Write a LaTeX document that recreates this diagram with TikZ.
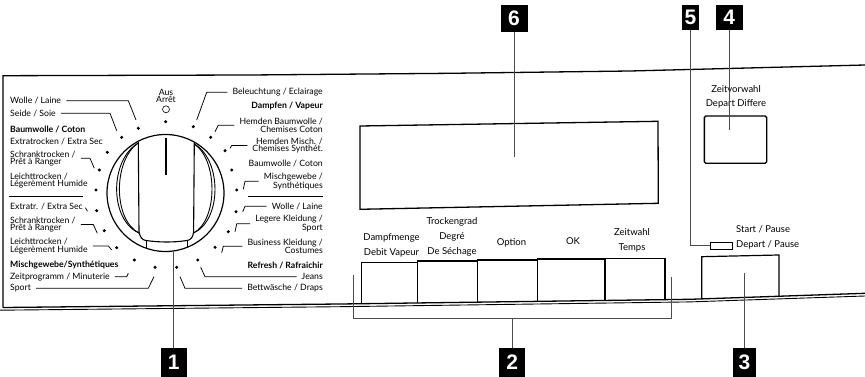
\documentclass[tikz,border=0pt]{standalone}
\usepackage{fontspec}
\setmainfont{Lato}
\newfontfamily\numfont{Liberation Sans}
\usetikzlibrary{calc}
\begin{document}
\begin{tikzpicture}[x=1pt,y=-1pt,
  lbl/.style={font=\fontsize{8.7}{7.4}\selectfont, inner xsep=5pt, inner ysep=1pt, align=left, anchor=west},
  rlbl/.style={lbl, align=right, anchor=east},
  btxt/.style={font=\fontsize{9.5}{14.6}\selectfont, inner sep=1pt, align=center},
  dot/.style={circle, fill=black, inner sep=0pt, minimum size=3.4pt},
  lead/.style={line width=0.75pt},
  panel/.style={line width=1.3pt},
  pointer/.style={draw=black!70, line width=0.9pt},
  numbox/.style={fill=black, text=white, font=\numfont\bfseries\fontsize{21}{21}\selectfont, inner sep=0pt}
]
\useasboundingbox (0,0) rectangle (865,377);

% panel outline
\draw[panel] (3,307.5) -- (3,75.7) -- (250,75) -- (450,73.3) -- (630,71) -- (865,65);
\draw[panel] (3,307.5) -- (340,304) -- (690,299.3) -- (865,293.3);
\draw[line width=0.9pt] (0,310.2) -- (340,306.7) -- (690,301.9) -- (865,296);

% dial
\node[circle, draw, line width=1.2pt, minimum size=117pt, inner sep=0pt] (dial) at (165.5,193) {};
\draw[line width=1.1pt] (138.3,141.5) -- (139,232);
\draw[line width=1.1pt] (194.3,142.3) -- (193.6,232);
\draw[line width=0.9pt] (138.3,143) .. controls (109.3,160) and (109.3,220) .. (139,233);
\draw[line width=0.9pt] (138.3,143) .. controls (113,160) and (113,220) .. (139,233);
\draw[line width=0.9pt] (194.3,144) .. controls (222,160) and (222,220) .. (193.6,233);
\draw[line width=0.9pt] (194.3,144) .. controls (218,160) and (218,220) .. (193.6,233);
\draw[line width=1.1pt] (139,232) .. controls (140,237) and (142,240) .. (146,240.5)
   .. controls (160,242.5) and (174,242.5) .. (187,240.5)
   .. controls (191,240) and (193,237) .. (193.6,232);
\draw[line width=1pt] (146,240.5) -- (146,248);
\draw[line width=1pt] (187,240.5) -- (187,247.5);
\draw[line width=1.8pt] (166,137.7) -- (166,175);

% Aus / Arret
\node[font=\fontsize{8.7}{7.4}\selectfont, align=center, inner sep=0pt] (aus) at (166,95.9) {Aus\\Arrêt};
\node[circle, draw, line width=0.6pt, inner sep=0pt, minimum size=7pt] (off) at (166,109.3) {};

% dots
\foreach \n/\p in {D0/{165.7,121.7}, D1/{138.3,128.3}, D2/{121.7,137.3}, D3/{107.3,152.3},
  D4/{99.3,170}, D5/{96,190}, D6/{96.7,210.7}, D7/{104.3,230.7}, D8/{116.7,247.7},
  D9/{134.3,260}, D10/{155,267.3},
  E1/{193.3,126.7}, E2/{210.7,137.3}, E3/{225,150.7}, E4/{231.7,170}, E5/{236.7,190},
  E6/{236,211.7}, E7/{228.3,231.7}, E8/{215,247.3}, E9/{197.7,260}, E10/{176.7,267.3}}
  \node[dot] (\n) at (\p) {};

% left labels
\node[lbl] (L1) at (5,100.7) {Wolle / Laine};
\node[lbl] (L2) at (5,113.3) {Seide / Soie};
\node[lbl] (L3) at (5,129.3) {\textbf{Baumwolle / Coton}};
\node[lbl] (L4) at (5,141.7) {Extratrocken / Extra Sec};
\node[lbl] (L5) at (5,158.3) {Schranktrocken /\\Prêt à Ranger};
\node[lbl] (L6) at (5,180.5) {Leichttrocken /\\Légerèment Humide};
\node[lbl] (L7) at (5,206.7) {Extratr. / Extra Sec};
\node[lbl] (L8) at (5,224.5) {Schranktrocken /\\Prêt à Ranger};
\node[lbl] (L9) at (5,245.9) {Leichttrocken /\\Légerèment Humide};
\node[lbl] (L10) at (5,265) {\textbf{Mischgewebe/Synthétiques}};
\node[lbl] (L11) at (5,276.7) {Zeitprogramm / Minuterie};
\node[lbl] (L12) at (5,288.3) {Sport};
\coordinate (sepL1) at (9.3,196); \coordinate (sepL2) at (83.3,196);
\draw[lead] (sepL1) -- (sepL2);

% right labels
\node[rlbl] (R1) at (328,92.3) {Beleuchtung / Eclairage};
\node[rlbl] (R2) at (328,105.7) {\textbf{Dampfen / Vapeur}};
\node[rlbl] (R3) at (328,125.2) {Hemden Baumwolle /\\Chemises Coton};
\node[rlbl] (R4) at (328,145.5) {Hemden Misch. /\\Chemises Synthét.};
\node[rlbl] (R5) at (328,163.3) {Baumwolle / Coton};
\node[rlbl] (R6) at (328,181.3) {Mischgewebe /\\Synthétiques};
\node[rlbl] (R7) at (328,206.3) {Wolle / Laine};
\node[rlbl] (R8) at (328,223.8) {Legere Kleidung /\\Sport};
\node[rlbl] (R9) at (328,246.3) {Business Kleidung /\\Costumes};
\node[rlbl] (R10) at (328,265) {\textbf{Refresh / Rafraichir}};
\node[rlbl] (R11) at (328,276.7) {Jeans};
\node[rlbl] (R12) at (328,288.3) {Bettwäsche / Draps};
\coordinate (sepR1) at (248.3,196); \coordinate (sepR2) at (322.7,196);
\draw[lead] (sepR1) -- (sepR2);

% leader bends and ends
\foreach \n/\b/\e in {L1/{128.3,0}/{136,120}, L2/{110,0}/{116.7,130.7}, L5/{90,0}/{94.3,168.3},
   L8/{93.3,0}/{97.3,233.3}, L9/{108.3,0}/{111.7,250}, L11/{126.7,0}/{128.3,273.3},
   L12/{148.3,0}/{154,276.7}}
{
  \coordinate (b\n) at (\b);
  \coordinate (e\n) at (\e);
  \draw[lead] (\n.east) -- (\n.east -| b\n) -- (e\n);
}
\foreach \n/\b/\e in {R1/{206.7,0}/{196.7,120}, R3/{218.3,0}/{215,131.7}, R4/{231.7,0}/{230,148.3},
   R6/{245,0}/{243.3,189.3}, R7/{245,0}/{242.7,211.7}, R8/{236.7,0}/{235,231.7},
   R9/{223.3,0}/{221.7,252.7}, R11/{205,0}/{200.7,267.3}, R12/{185,0}/{180,276.7}}
{
  \coordinate (b\n) at (\b);
  \coordinate (e\n) at (\e);
  \draw[lead] (\n.west) -- (\n.west -| b\n) -- (e\n);
}
\draw[lead] ($(L7.east)+(-2.5,1)$) -- ($(L7.east)+(-0.5,4.5)$);

% display
\draw[line width=1.3pt] (360,126) -- (658,121.3) -- (658.3,203.3) -- (360,209.3) -- cycle;

% buttons row
\draw[line width=1.2pt] (361.7,303.7) -- (361.7,262.7) -- (417.7,262.7) -- (417.7,303);
\draw[line width=1.2pt] (417.7,262.7) -- (417.7,261) -- (477.3,261) -- (477.3,302.2);
\draw[line width=1.2pt] (477.3,261) -- (477.3,260) -- (537.3,260) -- (537.3,301.4);
\draw[line width=1.2pt] (537.3,260) -- (537.3,259) -- (605,259) -- (605,300.4);
\draw[line width=1.2pt] (605,259) -- (605,258.3) -- (665,258.3) -- (665,299.6);
\node[btxt] (t1) at (391.5,245.5) {Dampfmenge\\Debit Vapeur};
\node[btxt, font=\fontsize{9.5}{15}\selectfont] (t2) at (452,236.7) {Trockengrad\\Degré\\De Séchage};
\node[btxt] (t3) at (511.5,242.7) {Option};
\node[btxt] (t4) at (573,241) {OK};
\node[btxt, font=\fontsize{9.5}{15.6}\selectfont] (t5) at (632,240.5) {Zeitwahl\\Temps};

% bracket 2
\coordinate (brL) at (353.3,275); \coordinate (brR) at (671.7,276.7);
\coordinate (brm) at (512.3,318.3);
\draw[pointer] (brL) -- (353.3,318.3) -- (671.7,318.3) -- (brR);

% right part
\draw[line width=1.4pt, rounded corners=1.5pt] (704.3,116) rectangle (766.7,163.3);
\node[btxt, font=\fontsize{9.5}{13.3}\selectfont] (zv) at (736,96.7) {Zeitvorwahl\\Depart Differe};
\node[draw, line width=0.9pt, inner sep=0pt, minimum width=22.7pt, minimum height=6.7pt] (led) at (721.3,245.6) {};
\node[btxt, align=left, anchor=west, inner sep=0pt, font=\fontsize{9.5}{15}\selectfont] (sp) at (736,237.8) {Start / Pause\\Depart / Pause};
\draw[line width=1.2pt] (701.7,298.9) -- (701.7,256.7) -- (779,255) -- (779,296.2);

% number boxes
\node[numbox, minimum width=26pt, minimum height=29pt] (n1) at (173.7,362.5) {1};
\node[numbox, minimum width=26pt, minimum height=29pt] (n2) at (512.3,362.5) {2};
\node[numbox, minimum width=23pt, minimum height=29pt] (n3) at (744.5,362.5) {3};
\node[numbox, minimum width=26.7pt, minimum height=25pt] (n4) at (729.3,17.5) {4};
\node[numbox, minimum width=17pt, minimum height=25pt] (n5) at (690.5,17.5) {5};
\node[numbox, minimum width=27pt, minimum height=27pt] (n6) at (514,18.5) {6};

% pointers
\coordinate (p3) at (742.7,273);
\coordinate (p4) at (729.3,130);
\coordinate (p6) at (514,157);
\draw[pointer] (n1.north) -- (n1.north |- dial.south);
\draw[pointer] (n2.north) -- (brm);
\draw[pointer] (n3.north) -- (n3.north |- p3);
\draw[pointer] (n4.south) -- (p4);
\draw[pointer] (n5.south) |- (led.west);
\draw[pointer] (n6.south) -- (p6);
\end{tikzpicture}
\end{document}
